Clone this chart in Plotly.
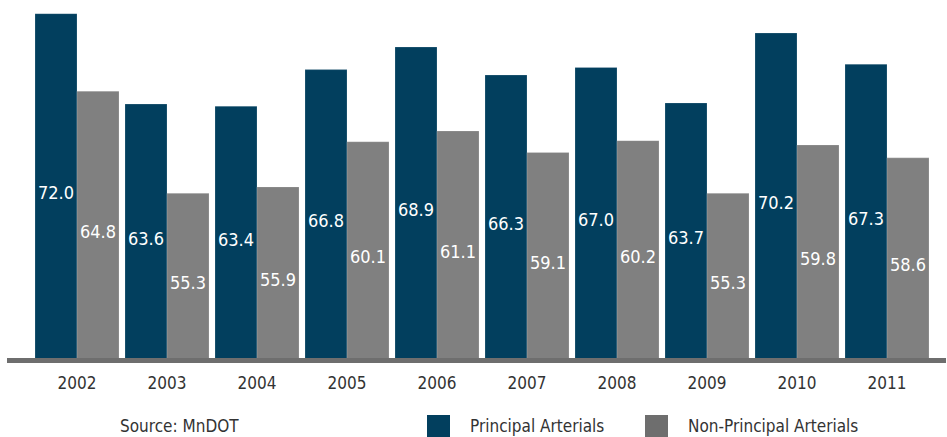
"""Principal vs non-principal arterials, grouped bars (MnDOT)."""

import plotly.graph_objects as go

# ---------------------------------------------------------------------------
# Data
# ---------------------------------------------------------------------------

YEARS = ["2002", "2003", "2004", "2005", "2006", "2007", "2008", "2009", "2010", "2011"]
PRINCIPAL = [72.0, 63.6, 63.4, 66.8, 68.9, 66.3, 67.0, 63.7, 70.2, 67.3]
NON_PRINCIPAL = [64.8, 55.3, 55.9, 60.1, 61.1, 59.1, 60.2, 55.3, 59.8, 58.6]
SERIES_NAMES = ["Principal Arterials", "Non-Principal Arterials"]
SOURCE_TEXT = "Source: MnDOT"

# ---------------------------------------------------------------------------
# Theme
# ---------------------------------------------------------------------------

BLUE = "#023F5E"
GREY = "#808080"
AXIS_GREY = "#6E6E6E"
TEXT_COLOR = "#333333"
FONT = "DejaVu Sans Condensed, Roboto, Arial, sans-serif"
FS = 17
Y_MIN, Y_MAX = 40, 73.27

W, H, L, R, T, B = 947, 437, 32, 15, 0, 79
PW, PH = W - L - R, H - T - B


def px_x(px):
    return (px - L) / PW


def px_y(py):
    return (H - B - py) / PH


fig = go.Figure()
for name, vals, color in [(SERIES_NAMES[0], PRINCIPAL, BLUE), (SERIES_NAMES[1], NON_PRINCIPAL, GREY)]:
    fig.add_trace(go.Bar(x=YEARS, y=vals, name=name, marker_color=color,
                         marker_line=dict(color="rgba(255,255,255,0.3)", width=0.6)))

# value labels, roughly centred in the visible part of each bar
# (x given as category index: "2002" would be read as index 2002)
for vals, shift in [(PRINCIPAL, -21), (NON_PRINCIPAL, 21)]:
    for i, v in enumerate(vals):
        fig.add_annotation(
            x=i, y=(v + Y_MIN) / 2, text=f"{v:.1f}", showarrow=False,
            xshift=shift, yshift=-7, font=dict(size=18, color="white", family=FONT),
        )

# source note + hand drawn legend
fig.add_annotation(
    x=px_x(118), y=px_y(426), xref="paper", yref="paper", text=SOURCE_TEXT,
    showarrow=False, xanchor="left", yanchor="middle",
    font=dict(size=FS, color=TEXT_COLOR, family=FONT),
)
for i, (label, color) in enumerate(zip(SERIES_NAMES, [BLUE, "#6E6E6E"])):
    x0 = 427 + i * 218
    fig.add_shape(type="rect", xref="paper", yref="paper",
                  x0=px_x(x0), x1=px_x(x0 + 23), y0=px_y(415), y1=px_y(438),
                  fillcolor=color, line_width=0)
    fig.add_annotation(x=px_x(x0 + 41), y=px_y(426), xref="paper", yref="paper",
                       text=label, showarrow=False, xanchor="left", yanchor="middle",
                       font=dict(size=FS, color=TEXT_COLOR, family=FONT))

# thick baseline running past the plot area
fig.add_shape(type="rect", xref="paper", yref="paper",
              x0=px_x(7), x1=px_x(946), y0=px_y(358), y1=px_y(363),
              fillcolor=AXIS_GREY, line_width=0, layer="above")

fig.update_layout(
    width=W, height=H,
    margin=dict(l=L, r=R, t=T, b=B),
    paper_bgcolor="white", plot_bgcolor="white",
    font=dict(family=FONT, color=TEXT_COLOR, size=FS),
    barmode="group", bargap=0.0667, bargroupgap=0,
    xaxis=dict(type="category", range=[-0.5, len(YEARS) - 0.5],
               showgrid=False, showline=False, zeroline=False,
               ticks="outside", ticklen=10, tickcolor="rgba(0,0,0,0)",
               tickfont=dict(size=FS, color=TEXT_COLOR)),
    yaxis=dict(range=[Y_MIN, Y_MAX], visible=False),
    showlegend=False,
)

fig.write_html("out.html", config={"displayModeBar": False},
               post_script="document.body.style.margin='0';")
